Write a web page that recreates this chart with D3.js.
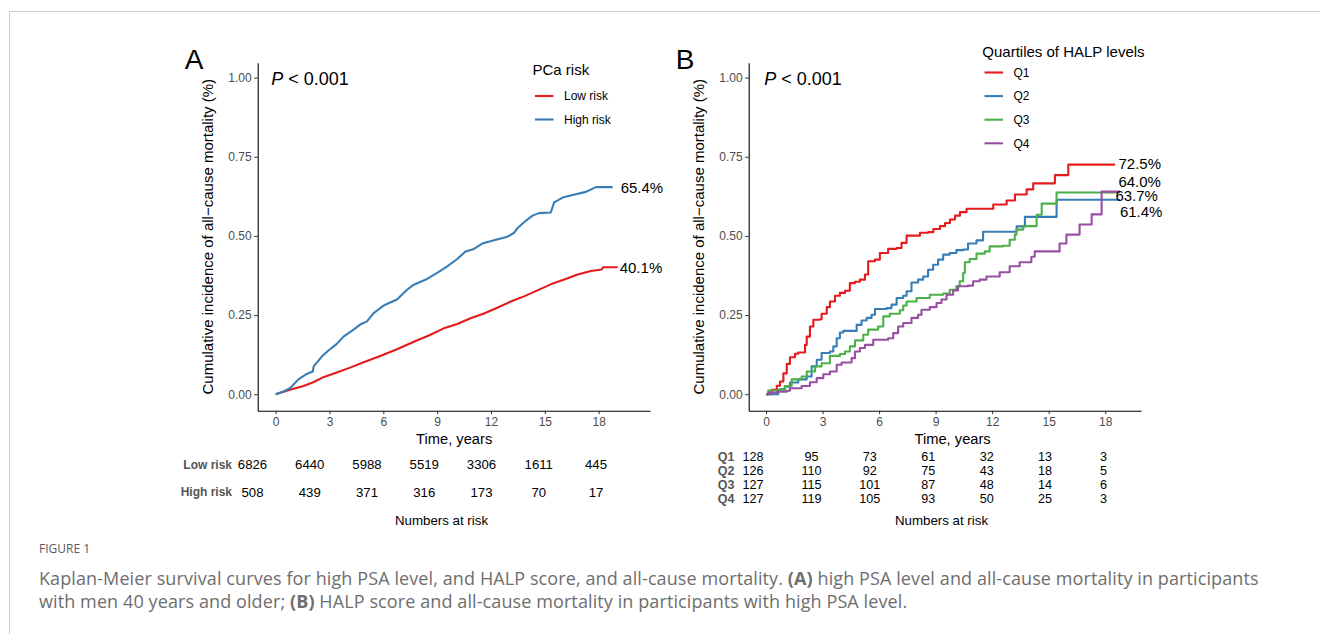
<!DOCTYPE html>
<meta charset="utf-8">

<head>
    <title>Kaplan-Meier curves, all-cause mortality</title>
</head>

<style>
    body { margin: 0; background: #fff; }
    svg text { font-family: "Liberation Sans", Arial, sans-serif; }
    .caption { font-family: "Open Sans", sans-serif; fill: #6e6e6e; }
</style>

<script src="https://d3js.org/d3.v7.min.js"></script>

<body>
    <svg id="fig" width="1320" height="634"></svg>
</body>

<script>

    // ---- data ----
    var xTicks = [0, 3, 6, 9, 12, 15, 18];
    var yTicks = [0, 0.25, 0.5, 0.75, 1];

    // panel A: cumulative incidence (time in years, value)
    var lowRisk = [[0, 0], [0.8, 0.014], [1.55, 0.026], [2.1, 0.038], [2.66, 0.054], [3.41, 0.069], [4.15, 0.084],
        [4.9, 0.101], [5.83, 0.121], [6.76, 0.142], [7.7, 0.166], [8.63, 0.188], [9.37, 0.208], [10.12, 0.222],
        [10.86, 0.24], [11.61, 0.255], [12.35, 0.273], [13.1, 0.293], [13.84, 0.309], [14.59, 0.328], [15.33, 0.347],
        [16.08, 0.362], [16.83, 0.378], [17.57, 0.389], [18.17, 0.394], [18.25, 0.401], [19.06, 0.401]];
    var highRisk = [[0, 0], [0.4, 0.008], [0.8, 0.019], [1.27, 0.047], [1.73, 0.064], [2.07, 0.072], [2.12, 0.088],
        [2.57, 0.119], [2.94, 0.138], [3.41, 0.159], [3.78, 0.182], [4.34, 0.204], [4.71, 0.22], [5.09, 0.23],
        [5.46, 0.256], [6.02, 0.28], [6.76, 0.299], [7.32, 0.33], [7.7, 0.346], [8.44, 0.364], [9.0, 0.383],
        [9.56, 0.404], [10.12, 0.427], [10.58, 0.451], [11.05, 0.459], [11.51, 0.476], [12.17, 0.486],
        [12.91, 0.497], [13.29, 0.51], [13.47, 0.524], [13.84, 0.543], [14.31, 0.564], [14.68, 0.572],
        [15.33, 0.574], [15.52, 0.606], [15.99, 0.621], [16.55, 0.629], [17.29, 0.639], [17.85, 0.654],
        [18.78, 0.654]];

    // panel B: quartiles of HALP
    var q1 = [[0, 0], [0.3, 0.014], [0.57, 0.027], [0.74, 0.04], [0.92, 0.066], [1.1, 0.096], [1.27, 0.117],
        [1.54, 0.128], [1.71, 0.132], [2.07, 0.156], [2.16, 0.182], [2.33, 0.214], [2.51, 0.235], [2.86, 0.237],
        [2.95, 0.254], [3.22, 0.275], [3.39, 0.293], [3.66, 0.311], [3.92, 0.32], [4.19, 0.327], [4.45, 0.351],
        [4.72, 0.355], [4.98, 0.362], [5.25, 0.378], [5.42, 0.42], [5.78, 0.425], [6.04, 0.446], [6.48, 0.459],
        [6.93, 0.462], [7.19, 0.478], [7.46, 0.501], [8.17, 0.51], [8.61, 0.512], [8.88, 0.522], [9.23, 0.531],
        [9.5, 0.541], [9.76, 0.552], [10.03, 0.564], [10.29, 0.575], [10.64, 0.586], [12.06, 0.599],
        [12.77, 0.612], [13.21, 0.631], [13.83, 0.647], [14.18, 0.666], [15.33, 0.692], [16.04, 0.725],
        [18.52, 0.725]];
    var q2 = [[0, 0], [0.65, 0.014], [1.0, 0.024], [1.27, 0.037], [1.71, 0.047], [2.16, 0.056], [2.42, 0.088],
        [2.69, 0.109], [2.95, 0.13], [3.39, 0.135], [3.57, 0.151], [3.75, 0.177], [3.92, 0.195], [4.1, 0.2],
        [4.81, 0.219], [5.07, 0.233], [5.34, 0.241], [5.6, 0.251], [5.78, 0.269], [6.4, 0.272], [6.66, 0.283],
        [6.93, 0.304], [7.28, 0.311], [7.46, 0.325], [7.72, 0.353], [8.07, 0.362], [8.34, 0.372], [8.6, 0.393],
        [8.87, 0.409], [9.13, 0.425], [9.4, 0.441], [9.75, 0.446], [10.1, 0.455], [10.46, 0.457],
        [10.72, 0.476], [11.17, 0.486], [11.52, 0.513], [13.3, 0.53], [13.74, 0.56], [15.42, 0.614],
        [18.78, 0.614]];
    var q3 = [[0, 0], [0.12, 0.012], [0.74, 0.016], [1.0, 0.026], [1.36, 0.047], [1.89, 0.056], [2.16, 0.072],
        [2.6, 0.088], [2.95, 0.098], [3.39, 0.121], [3.92, 0.127], [4.19, 0.135], [4.45, 0.151], [4.72, 0.17],
        [5.16, 0.188], [5.42, 0.204], [5.95, 0.214], [6.22, 0.246], [6.57, 0.254], [7.1, 0.265], [7.28, 0.28],
        [7.46, 0.293], [7.99, 0.304], [8.69, 0.314], [9.4, 0.318], [9.75, 0.33], [10.1, 0.341], [10.28, 0.357],
        [10.46, 0.383], [10.55, 0.417], [10.81, 0.427], [11.17, 0.444], [11.61, 0.451], [11.87, 0.467],
        [12.58, 0.469], [12.93, 0.488], [13.2, 0.504], [13.29, 0.52], [13.65, 0.531], [14.36, 0.567],
        [14.63, 0.602], [15.42, 0.637], [18.78, 0.637]];
    var q4 = [[0, 0], [0.12, 0.005], [0.57, 0.008], [1.1, 0.011], [1.27, 0.019], [1.89, 0.026], [2.33, 0.038],
        [2.69, 0.051], [3.04, 0.063], [3.39, 0.072], [3.75, 0.093], [4.01, 0.1], [4.54, 0.114], [4.72, 0.135],
        [4.98, 0.146], [5.25, 0.156], [5.69, 0.172], [6.48, 0.177], [6.75, 0.193], [7.01, 0.214], [7.28, 0.225],
        [7.72, 0.241], [8.07, 0.251], [8.25, 0.267], [8.69, 0.275], [9.05, 0.288], [9.31, 0.299], [9.58, 0.314],
        [9.93, 0.328], [10.19, 0.341], [10.72, 0.343], [10.99, 0.357], [11.34, 0.362], [11.7, 0.372],
        [12.4, 0.385], [12.93, 0.404], [13.46, 0.417], [14.08, 0.434], [14.26, 0.451], [15.58, 0.476],
        [15.94, 0.504], [16.64, 0.536], [17.28, 0.568], [17.81, 0.64], [18.78, 0.64]];

    var groupsA = ["Low risk", "High risk"];
    var groupsB = ["Q1", "Q2", "Q3", "Q4"];
    var endLabelsA = ["40.1%", "65.4%"];
    var endLabelsB = ["72.5%", "61.4%", "63.7%", "64.0%"];

    var riskA = [[6826, 6440, 5988, 5519, 3306, 1611, 445],
                 [508, 439, 371, 316, 173, 70, 17]];
    var riskB = [[128, 95, 73, 61, 32, 13, 3],
                 [126, 110, 92, 75, 43, 18, 5],
                 [127, 115, 101, 87, 48, 14, 6],
                 [127, 119, 105, 93, 50, 25, 3]];

    var captionHead = "FIGURE 1";

    // ---- drawing ----
    var svg = d3.select("#fig");
    var colA = ["#E41A1C", "#377EB8"];
    var colB = ["#E41A1C", "#377EB8", "#4DAF4A", "#984EA3"];

    // frame around the figure
    svg.append("path")
        .attr("d", "M9.5,634 V11.5 H1320")
        .attr("fill", "none")
        .attr("stroke", "#cccccc")
        .attr("stroke-width", 1);

    var y = d3.scaleLinear().domain([-0.052, 1.047]).range([410.7, 62.7]);

    function drawPanel(opt) {
        var x = opt.x;
        var g = svg.append("g");

        // axes
        var yAxis = g.append("g")
            .attr("transform", "translate(" + x.range()[0] + ",0)")
            .call(d3.axisLeft(y).tickValues(yTicks).tickFormat(d3.format(".2f")).tickSize(3.5).tickSizeOuter(0).tickPadding(2.5));
        var xAxis = g.append("g")
            .attr("transform", "translate(0," + y.range()[0] + ")")
            .call(d3.axisBottom(x).tickValues(xTicks).tickSize(3.5).tickSizeOuter(0).tickPadding(3));
        [yAxis, xAxis].forEach(function (a) {
            a.select(".domain").attr("stroke", "#000").attr("stroke-width", 1.1);
            a.selectAll(".tick line").attr("stroke", "#333");
            a.selectAll(".tick text").attr("fill", "#4d4d4d").style("font-size", "12px")
                .style("font-family", "'Liberation Sans', Arial, sans-serif");
        });

        // curves
        var line = d3.line().curve(opt.curve)
            .x(function (d) { return x(d[0]); })
            .y(function (d) { return y(d[1]); });
        opt.series.forEach(function (s, i) {
            g.append("path")
                .datum(s)
                .attr("fill", "none")
                .attr("stroke", opt.colors[i])
                .attr("stroke-width", 2.1)
                .attr("stroke-linejoin", "round")
                .attr("d", line);
        });

        // end labels
        opt.series.forEach(function (s, i) {
            var last = s[s.length - 1];
            g.append("text")
                .attr("x", x(last[0]) + opt.labelDx[i])
                .attr("y", y(last[1]) + opt.labelDy[i])
                .attr("dy", "0.36em")
                .style("font-size", "15px")
                .text(opt.endLabels[i]);
        });

        // axis titles
        var xm = x.range()[0];
        g.append("text")
            .attr("transform", "translate(" + (xm - 50.5) + "," + ((y.range()[0] + y.range()[1]) / 2) + ") rotate(-90)")
            .attr("text-anchor", "middle")
            .attr("dy", "0.36em")
            .style("font-size", "15px")
            .text("Cumulative incidence of all\u2212cause mortality (%)");
        g.append("text")
            .attr("x", (x(0) + x(18)) / 2 + 17)
            .attr("y", 439)
            .attr("dy", "0.36em")
            .attr("text-anchor", "middle")
            .style("font-size", "14.7px")
            .text("Time, years");

        // panel letter and p value
        g.append("text")
            .attr("x", xm - 73)
            .attr("y", 68.5)
            .style("font-size", "28px")
            .text(opt.letter);
        var p = g.append("text")
            .attr("x", xm + opt.pDx)
            .attr("y", 78.3)
            .attr("dy", "0.36em")
            .style("font-size", "18px");
        p.append("tspan").style("font-style", "italic").text("P");
        p.append("tspan").text(" < 0.001");

        // legend
        var lg = g.append("g").attr("transform", "translate(" + opt.legendX + ",0)");
        lg.append("text")
            .attr("x", opt.legendTitleDx)
            .attr("y", opt.legendTitleY)
            .attr("dy", "0.36em")
            .style("font-size", "15px")
            .text(opt.legendTitle);
        opt.groups.forEach(function (name, i) {
            var yy = opt.legendY0 + i * opt.legendStep;
            lg.append("line")
                .attr("x1", 0).attr("x2", 18.5)
                .attr("y1", yy).attr("y2", yy)
                .attr("stroke", opt.colors[i])
                .attr("stroke-width", 2.1);
            lg.append("text")
                .attr("x", 29)
                .attr("y", yy)
                .attr("dy", "0.36em")
                .style("font-size", "12px")
                .text(name);
        });

        // numbers at risk table
        var tx = opt.tableX;
        opt.risk.forEach(function (row, r) {
            var yy = opt.tableY0 + r * opt.tableStep;
            g.append("text")
                .attr("x", opt.tableLabelX)
                .attr("y", yy)
                .attr("dy", "0.36em")
                .attr("text-anchor", "end")
                .attr("fill", "#555")
                .style("font-weight", "bold")
                .style("font-size", opt.tableLabelSize)
                .text(opt.groups[r]);
            g.selectAll(null)
                .data(row)
                .enter()
                .append("text")
                .attr("x", function (d, i) { return tx(xTicks[i]); })
                .attr("y", yy)
                .attr("dy", "0.36em")
                .attr("text-anchor", "middle")
                .style("font-size", opt.tableSize)
                .text(function (d) { return d; });
        });
        g.append("text")
            .attr("x", opt.tableTitleX)
            .attr("y", 520)
            .attr("dy", "0.36em")
            .attr("text-anchor", "middle")
            .style("font-size", "13.3px")
            .text("Numbers at risk");
    }

    drawPanel({
        letter: "A",
        x: d3.scaleLinear().domain([-1.0, 20.86]).range([257.7, 650]),
        curve: d3.curveLinear,
        series: [lowRisk, highRisk],
        colors: colA,
        groups: groupsA,
        endLabels: endLabelsA,
        labelDx: [2, 8],
        labelDy: [0, 0],
        pDx: 13.5,
        legendX: 535,
        legendTitle: "PCa risk",
        legendTitleDx: -2.5,
        legendTitleY: 70,
        legendY0: 96,
        legendStep: 23.5,
        risk: riskA,
        tableX: d3.scaleLinear().domain([0, 18]).range([252.5, 596]),
        tableY0: 464.5,
        tableStep: 27.5,
        tableLabelX: 232,
        tableLabelSize: "12px",
        tableSize: "13.2px",
        tableTitleX: 441.5
    });

    drawPanel({
        letter: "B",
        x: d3.scaleLinear().domain([-0.92, 19.9]).range([748.7, 1141]),
        curve: d3.curveStepAfter,
        series: [q1, q2, q3, q4],
        colors: colB,
        groups: groupsB,
        endLabels: endLabelsB,
        labelDx: [3.5, 0, -4.5, -1.5],
        labelDy: [-1, 11.5, 3.5, -9.5],
        pDx: 15.5,
        legendX: 984.5,
        legendTitle: "Quartiles of HALP levels",
        legendTitleDx: -2.2,
        legendTitleY: 52,
        legendY0: 72.5,
        legendStep: 23.6,
        risk: riskB,
        tableX: d3.scaleLinear().domain([0, 18]).range([753, 1103.5]),
        tableY0: 456,
        tableStep: 14,
        tableLabelX: 734.5,
        tableLabelSize: "12.5px",
        tableSize: "12.6px",
        tableTitleX: 941.5
    });

    // caption
    svg.append("text")
        .attr("class", "caption")
        .attr("x", 39)
        .attr("y", 553)
        .style("font-size", "12px")
        .style("fill", "#5a5a5a")
        .text(captionHead);
    var cap1 = svg.append("text").attr("class", "caption").attr("x", 39).attr("y", 585)
        .style("font-size", "18px").style("letter-spacing", "0.1px");
    cap1.append("tspan").text("Kaplan-Meier survival curves for high PSA level, and HALP score, and all-cause mortality. ");
    cap1.append("tspan").style("font-weight", "bold").text("(A)");
    cap1.append("tspan").text(" high PSA level and all-cause mortality in participants");
    var cap2 = svg.append("text").attr("class", "caption").attr("x", 39).attr("y", 608)
        .style("font-size", "18px").style("letter-spacing", "0.1px");
    cap2.append("tspan").text("with men 40 years and older; ");
    cap2.append("tspan").style("font-weight", "bold").text("(B)");
    cap2.append("tspan").text(" HALP score and all-cause mortality in participants with high PSA level.");

</script>
